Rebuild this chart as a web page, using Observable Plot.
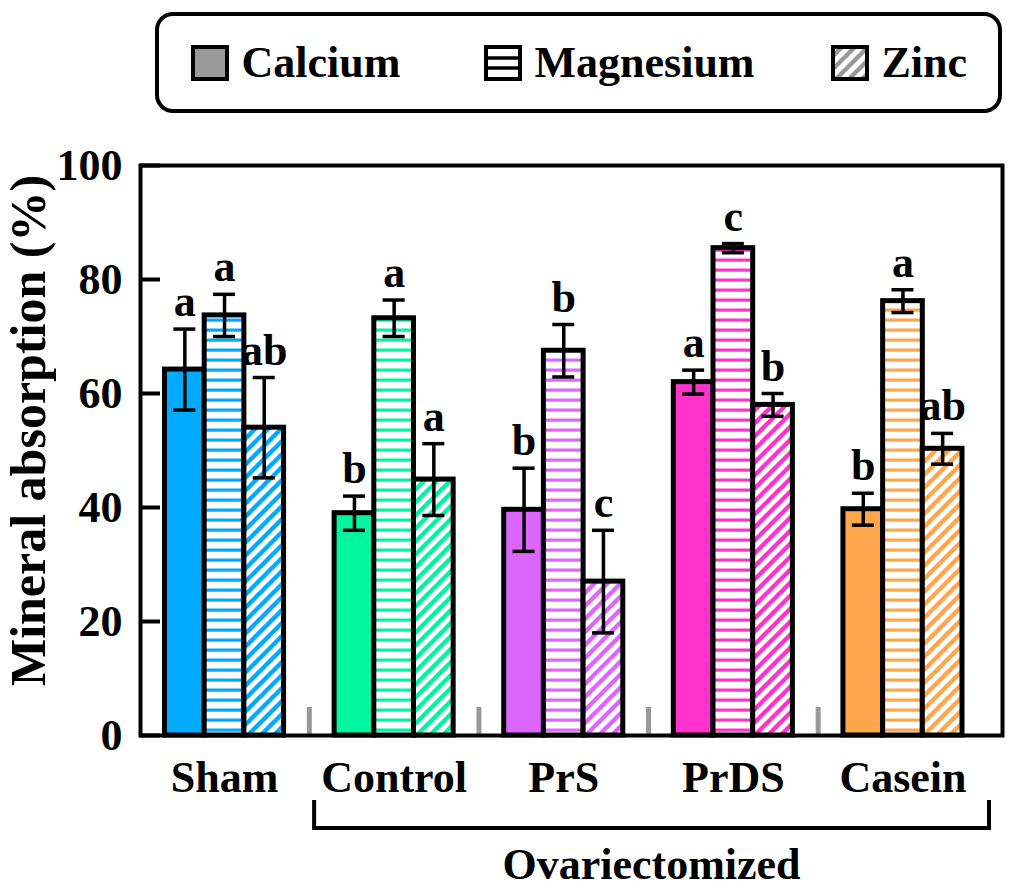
<!DOCTYPE html>
<html><head><meta charset="utf-8">
<script src="https://cdn.jsdelivr.net/npm/d3@7"></script>
<script src="https://cdn.jsdelivr.net/npm/@observablehq/plot@0.6"></script>
<style>
body{margin:0;background:#fff;font-family:"Liberation Serif","Times New Roman",serif;font-weight:bold}
#wrap{position:relative;width:1024px;height:892px;overflow:hidden}
#legend{position:absolute;left:155px;top:12px;width:847px;height:101px;box-sizing:border-box;border:4px solid #000;border-radius:18px}
.item{position:absolute;top:0;height:100%;display:flex;align-items:center;font-size:44px;line-height:1}
.item svg{margin-right:13px;display:block}
#chart{position:absolute;left:0;top:125px}
</style></head>
<body><div id="wrap"><div id="legend"></div><div id="chart"></div></div>
<script>
const groups = ["Sham", "Control", "PrS", "PrDS", "Casein"];
const minerals = ["Calcium", "Magnesium", "Zinc"];
const groupColors = ["#00AAFF", "#00F5A0", "#DD66FF", "#FF33CC", "#FFA64D"];
const calcium = [64.2, 39.0, 39.6, 62.0, 39.7];
const calciumSE = [7.1, 3.0, 7.3, 2.1, 2.8];
const magnesium = [73.7, 73.2, 67.5, 85.5, 76.2];
const magnesiumSE = [3.7, 3.2, 4.6, 0.8, 2.0];
const zinc = [54.0, 44.9, 27.0, 58.0, 50.3];
const zincSE = [8.8, 6.3, 9.0, 2.0, 2.7];
const calciumLetters = ["a", "b", "b", "a", "b"];
const magnesiumLetters = ["a", "a", "b", "c", "a"];
const zincLetters = ["ab", "a", "c", "b", "ab"];
const yTicks = [0, 20, 40, 60, 80, 100];
const yLabel = "Mineral absorption (%)";
const groupLabel = "Ovariectomized";
const legendItems = [["Calcium", 31.5], ["Magnesium", 324.5], ["Zinc", 671.5]];

// layout
const W = 1024, H = 767;
const xRange = [164.5, 962], padInner = 0.298;
const step = (xRange[1] - xRange[0]) / (groups.length - padInner);
const bw = step * (1 - padInner);
const third = bw / 3;

const series = [
  {name: "Calcium", vals: calcium, se: calciumSE, let: calciumLetters, fill: i => groupColors[i]},
  {name: "Magnesium", vals: magnesium, se: magnesiumSE, let: magnesiumLetters, fill: i => `url(#mg-${i})`},
  {name: "Zinc", vals: zinc, se: zincSE, let: zincLetters, fill: i => `url(#zn-${i})`}
];
const rows = series.map(s => groups.map((g, i) => ({
  group: g, mineral: s.name, value: s.vals[i], se: s.se[i], letter: s.let[i], fill: s.fill(i)
})));

const marks = [];
rows.forEach((data, k) => {
  marks.push(Plot.barY(data, {x: "group", y: "value", fill: "fill", stroke: "black", strokeWidth: 5,
    insetLeft: third * k, insetRight: third * (2 - k)}));
});
rows.forEach((data, k) => {
  const center = third * (k + 0.5) - bw / 2;
  const capHalf = 11;
  const cl = third * (k + 0.5) - capHalf, cr = bw - third * (k + 0.5) - capHalf;
  marks.push(Plot.ruleX(data, {x: "group", y1: d => d.value - d.se, y2: d => d.value + d.se, dx: center, stroke: "black", strokeWidth: 3.5}));
  marks.push(Plot.tickY(data, {x: "group", y: d => d.value + d.se, insetLeft: cl, insetRight: cr, stroke: "black", strokeWidth: 3.5}));
  marks.push(Plot.tickY(data, {x: "group", y: d => d.value - d.se, insetLeft: cl, insetRight: cr, stroke: "black", strokeWidth: 3.5}));
  marks.push(Plot.text(data, {x: "group", y: d => d.value + d.se, text: "letter", dx: center, dy: -13, lineAnchor: "bottom", fontSize: 44, fill: "black", style: "letter-spacing:1px"}));
});
marks.push(Plot.ruleX(groups.slice(1), {x: d => d, dx: -step / 2, stroke: "#999", strokeWidth: 5, insetTop: 542}));
marks.push(Plot.frame({stroke: "black", strokeWidth: 4}));
marks.push(Plot.axisY({ticks: yTicks, tickSize: -20, tickPadding: 38, strokeWidth: 4, fontSize: 44, label: null, fill: "black"}));
marks.push(Plot.axisX({tickSize: 0, tickPadding: 25, fontSize: 44, label: null, fill: "black"}));
marks.push(Plot.text([yLabel], {text: d => d, frameAnchor: "left", rotate: -90, dx: -112, dy: -20, fontSize: 50, textAnchor: "middle", lineAnchor: "middle", fill: "black"}));

const plot = Plot.plot({
  width: W, height: H,
  marginLeft: 140, marginRight: 22, marginTop: 40, marginBottom: 157,
  style: {fontFamily: "'Liberation Serif', 'Times New Roman', serif", fontWeight: "bold", background: "white", color: "black"},
  x: {domain: groups, range: xRange, paddingInner: padInner, paddingOuter: 0, round: false},
  y: {domain: [0, 100], range: [H - 157, 40]},
  color: {type: "identity"},
  marks
});

// patterns
const svg = d3.select(plot);
const defs = svg.insert("defs", ":first-child");
groupColors.forEach((c, i) => {
  const pm = defs.append("pattern").attr("id", `mg-${i}`).attr("patternUnits", "userSpaceOnUse").attr("width", 10).attr("height", 10);
  pm.append("rect").attr("width", 10).attr("height", 10).attr("fill", "white");
  pm.append("rect").attr("y", 3.5).attr("width", 10).attr("height", 3.2).attr("fill", c);
  const pz = defs.append("pattern").attr("id", `zn-${i}`).attr("patternUnits", "userSpaceOnUse").attr("width", 13).attr("height", 13);
  pz.append("rect").attr("width", 13).attr("height", 13).attr("fill", "white");
  pz.append("path").attr("d", "M-3,3L3,-3M0,13L13,0M10,16L16,10").attr("stroke", c).attr("stroke-width", 4.4);
});

// bracket + group label using the x scale
const xs = plot.scale("x");
const bx0 = xs.apply("Control") - 20, bx1 = xs.apply("Casein") + xs.bandwidth + 27;
svg.append("path").attr("d", `M${bx0},675V703H${bx1}V675`).attr("fill", "none").attr("stroke", "black").attr("stroke-width", 4);
svg.append("text").attr("x", (bx0 + bx1) / 2).attr("y", 754).attr("text-anchor", "middle").attr("font-size", 44).attr("fill", "black").text(groupLabel);

document.getElementById("chart").appendChild(plot);

// legend
const legend = d3.select("#legend");
legendItems.forEach(([name, left]) => {
  const it = legend.append("div").attr("class", "item").style("left", left + "px");
  const s = it.append("svg").attr("width", 38).attr("height", 36);
  const d = s.append("defs");
  if (name === "Calcium") {
    s.append("rect").attr("x", 2).attr("y", 2).attr("width", 34).attr("height", 32).attr("fill", "#999").attr("stroke", "black").attr("stroke-width", 4);
  } else if (name === "Magnesium") {
    s.append("rect").attr("x", 2).attr("y", 2).attr("width", 34).attr("height", 32).attr("fill", "white").attr("stroke", "black").attr("stroke-width", 4);
    s.append("path").attr("d", "M2,13H36M2,23H36").attr("stroke", "black").attr("stroke-width", 3.5);
  } else {
    const p = d.append("pattern").attr("id", "lg-zn").attr("patternUnits", "userSpaceOnUse").attr("width", 13).attr("height", 13);
    p.append("rect").attr("width", 13).attr("height", 13).attr("fill", "white");
    p.append("path").attr("d", "M-3,3L3,-3M0,13L13,0M10,16L16,10").attr("stroke", "#999").attr("stroke-width", 4.4);
    s.append("rect").attr("x", 2).attr("y", 2).attr("width", 34).attr("height", 32).attr("fill", "url(#lg-zn)").attr("stroke", "black").attr("stroke-width", 4);
  }
  it.append("span").text(name);
});
</script></body></html>
